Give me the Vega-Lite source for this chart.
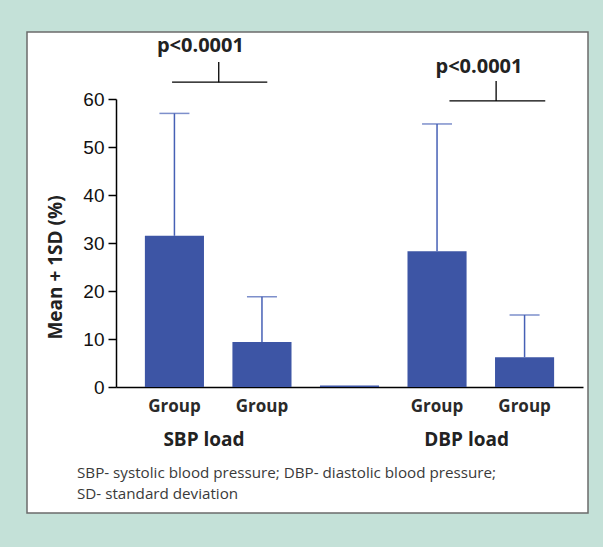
{
  "$schema": "https://vega.github.io/schema/vega-lite/v6.json",
  "width": 561,
  "height": 481,
  "autosize": {"type": "none"},
  "padding": {"left": 27, "top": 32, "right": 15, "bottom": 34},
  "background": "#c4e1d8",
  "datasets": {
    "bars": [
      {"bar": "S1", "mean": 31.5, "upper": 57.0},
      {"bar": "S2", "mean": 9.4, "upper": 18.8},
      {"bar": "M", "mean": 0.3, "upper": null},
      {"bar": "D1", "mean": 28.3, "upper": 54.8},
      {"bar": "D2", "mean": 6.2, "upper": 15.0}
    ],
    "brackets": [
      {"id": 1, "a": "S1", "b": "S2", "label": "p<0.0001", "hy": 63.5, "vy": 67.7, "ty": 69.8},
      {"id": 2, "a": "D1", "b": "D2", "label": "p<0.0001", "hy": 59.6, "vy": 63.75, "ty": 65.4}
    ],
    "loads": [
      {"a": "S1", "label": "SBP load"},
      {"a": "D1", "label": "DBP load"}
    ]
  },
  "title": {
    "text": ["SBP- systolic blood pressure; DBP- diastolic blood pressure;", "SD- standard deviation"],
    "orient": "bottom",
    "anchor": "start",
    "frame": "group",
    "dx": 50,
    "offset": -47,
    "font": "Open Sans",
    "fontSize": 15.2,
    "fontWeight": "normal",
    "color": "#3a3a3a",
    "lineHeight": 21,
    "baseline": "top"
  },
  "layer": [
    {
      "data": {"name": "bars"},
      "mark": {"type": "bar", "color": "#3d55a5"},
      "encoding": {
        "x": {
          "field": "bar", "type": "nominal",
          "scale": {"domain": ["S1", "S2", "M", "D1", "D2"], "range": [89, 556], "paddingInner": 0.325, "paddingOuter": 0.33},
          "axis": {
            "title": null, "ticks": false, "grid": false, "labelAngle": 0,
            "labelExpr": "datum.value == 'M' ? '' : 'Group'",
            "labelFont": "Open Sans", "labelFontSize": 17, "labelFontWeight": "bold", "labelColor": "#2a2a2a",
            "labelPadding": 11, "labelDx": -16,
            "domainColor": "#000000", "domainWidth": 1.5, "offset": -126
          }
        },
        "y": {
          "field": "mean", "type": "quantitative",
          "scale": {"domain": [0, 60], "range": [355, 67], "nice": false},
          "axis": {
            "title": "Mean + 1SD (%)", "titleFont": "Open Sans", "titleFontSize": 19, "titleFontWeight": "bold", "titleColor": "#222222",
            "titleX": -61, "titleY": 235, "titleBaseline": "middle", "titleAngle": -90,
            "offset": -89, "values": [0, 10, 20, 30, 40, 50, 60],
            "tickSize": 8, "tickColor": "#000000", "tickWidth": 1.5,
            "domainColor": "#000000", "domainWidth": 1.5,
            "labelFont": "Liberation Sans", "labelFontSize": 19, "labelColor": "#111111", "labelPadding": 4,
            "grid": false
          }
        }
      }
    },
    {
      "data": {"name": "bars"},
      "transform": [{"filter": "datum.upper != null"}],
      "mark": {"type": "rule", "color": "#4660b5", "strokeWidth": 1.5},
      "encoding": {
        "x": {"field": "bar", "type": "nominal"},
        "y": {"field": "mean", "type": "quantitative"},
        "y2": {"field": "upper"}
      }
    },
    {
      "data": {"name": "bars"},
      "transform": [{"filter": "datum.upper != null"}],
      "mark": {"type": "tick", "orient": "horizontal", "color": "#4660b5", "size": 30, "thickness": 1.5},
      "encoding": {
        "x": {"field": "bar", "type": "nominal"},
        "y": {"field": "upper", "type": "quantitative"}
      }
    },
    {
      "data": {"name": "brackets"},
      "transform": [{"filter": "datum.id == 1"}],
      "mark": {"type": "rule", "color": "#000000", "strokeWidth": 1.3},
      "encoding": {
        "x": {"field": "a", "type": "nominal", "bandPosition": 0.46},
        "x2": {"field": "b", "bandPosition": 0.59},
        "y": {"field": "hy", "type": "quantitative"}
      }
    },
    {
      "data": {"name": "brackets"},
      "transform": [{"filter": "datum.id == 1"}],
      "mark": {"type": "rule", "color": "#000000", "strokeWidth": 1.3},
      "encoding": {
        "x": {"field": "a", "type": "nominal", "bandPosition": 1.25},
        "y": {"field": "hy", "type": "quantitative"},
        "y2": {"field": "vy"}
      }
    },
    {
      "data": {"name": "brackets"},
      "transform": [{"filter": "datum.id == 1"}],
      "mark": {"type": "text", "font": "Open Sans", "fontSize": 20, "fontWeight": "bold", "color": "#222222", "baseline": "alphabetic", "align": "center"},
      "encoding": {
        "x": {"field": "a", "type": "nominal", "bandPosition": 0.94},
        "y": {"field": "ty", "type": "quantitative"},
        "text": {"field": "label"}
      }
    },
    {
      "data": {"name": "brackets"},
      "transform": [{"filter": "datum.id == 2"}],
      "mark": {"type": "rule", "color": "#000000", "strokeWidth": 1.3},
      "encoding": {
        "x": {"field": "a", "type": "nominal", "bandPosition": 0.71},
        "x2": {"field": "b", "bandPosition": 0.85},
        "y": {"field": "hy", "type": "quantitative"}
      }
    },
    {
      "data": {"name": "brackets"},
      "transform": [{"filter": "datum.id == 2"}],
      "mark": {"type": "rule", "color": "#000000", "strokeWidth": 1.3},
      "encoding": {
        "x": {"field": "a", "type": "nominal", "bandPosition": 1.5},
        "y": {"field": "hy", "type": "quantitative"},
        "y2": {"field": "vy"}
      }
    },
    {
      "data": {"name": "brackets"},
      "transform": [{"filter": "datum.id == 2"}],
      "mark": {"type": "text", "font": "Open Sans", "fontSize": 20, "fontWeight": "bold", "color": "#222222", "baseline": "alphabetic", "align": "center"},
      "encoding": {
        "x": {"field": "a", "type": "nominal", "bandPosition": 1.21},
        "y": {"field": "ty", "type": "quantitative"},
        "text": {"field": "label"}
      }
    },
    {
      "data": {"name": "loads"},
      "mark": {"type": "text", "font": "Open Sans", "fontSize": 19, "fontWeight": "bold", "color": "#222222", "baseline": "alphabetic", "align": "center"},
      "encoding": {
        "x": {"field": "a", "type": "nominal", "bandPosition": 1.0},
        "y": {"datum": -12.3, "type": "quantitative"},
        "text": {"field": "label"}
      }
    }
  ],
  "config": {
    "view": {"fill": "#ffffff", "stroke": "#6b6b6b", "strokeWidth": 1.5}
  }
}
